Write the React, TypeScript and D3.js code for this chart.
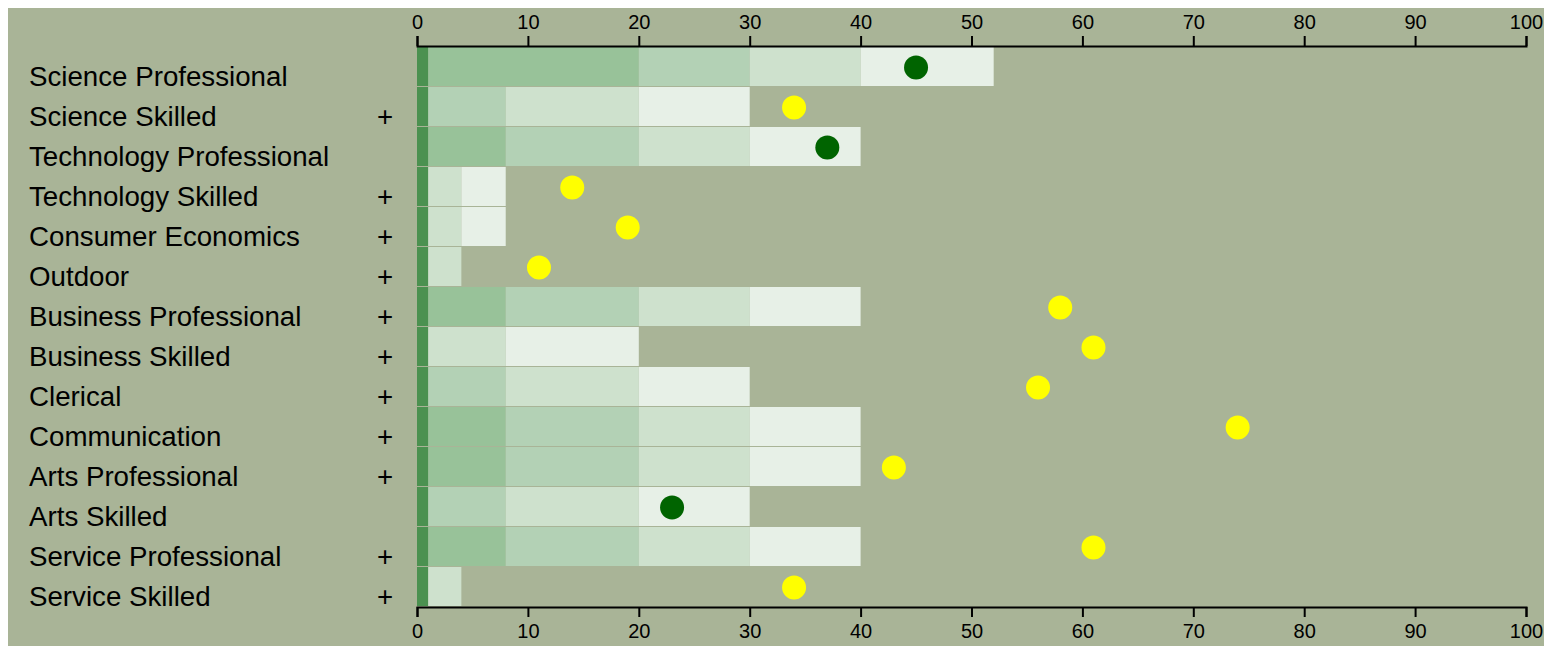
import React, { useEffect, useRef } from "react";
import * as d3 from "d3";

const categories: string[] = [
  "Science Professional",
  "Science Skilled",
  "Technology Professional",
  "Technology Skilled",
  "Consumer Economics",
  "Outdoor",
  "Business Professional",
  "Business Skilled",
  "Clerical",
  "Communication",
  "Arts Professional",
  "Arts Skilled",
  "Service Professional",
  "Service Skilled",
];

// end values of the shaded range segments (the first starts at 1)
const rangeEnds: number[][] = [
  [20, 30, 40, 52],
  [8, 20, 30],
  [8, 20, 30, 40],
  [4, 8],
  [4, 8],
  [4],
  [8, 20, 30, 40],
  [8, 20],
  [8, 20, 30],
  [8, 20, 30, 40],
  [8, 20, 30, 40],
  [8, 20, 30],
  [8, 20, 30, 40],
  [4],
];

// shade level for each segment (0 = darkest, 3 = lightest)
const rangeShades: number[][] = [
  [0, 1, 2, 3],
  [1, 2, 3],
  [0, 1, 2, 3],
  [2, 3],
  [2, 3],
  [2],
  [0, 1, 2, 3],
  [2, 3],
  [1, 2, 3],
  [0, 1, 2, 3],
  [0, 1, 2, 3],
  [1, 2, 3],
  [0, 1, 2, 3],
  [2],
];

const baseValue = 1;
const scores: number[] = [45, 34, 37, 14, 19, 11, 58, 61, 56, 74, 43, 23, 61, 34];
const flagged: boolean[] = [false, true, false, true, true, true, true, true, true, true, true, false, true, true];
const ticks: number[] = [0, 10, 20, 30, 40, 50, 60, 70, 80, 90, 100];

const BG = "#a9b497";
const BASE_COLOR = "#4b9150";
const SHADES = ["#98c299", "#b3d1b5", "#cee1cd", "#e7f0e7"];
const FONT = "Arial, 'Liberation Sans', sans-serif";

export default function App() {
  const topRef = useRef<SVGGElement>(null);
  const botRef = useRef<SVGGElement>(null);

  const x = d3.scaleLinear().domain([0, 100]).range([409, 1518]);
  const y = d3
    .scaleBand<string>()
    .domain(categories)
    .range([39, 39 + categories.length * 40])
    .paddingInner(0.025)
    .paddingOuter(0.0125)
    .align(0);
  const bw = y.bandwidth();

  useEffect(() => {
    const style = (g: d3.Selection<SVGGElement, unknown, null, undefined>) => {
      g.attr("font-family", FONT).attr("font-size", 20);
      g.select(".domain").attr("stroke", "#000").attr("stroke-width", 2);
      g.selectAll(".tick line").attr("stroke", "#000").attr("stroke-width", 2);
      g.selectAll(".tick text").attr("fill", "#000");
    };
    if (topRef.current) {
      const g = d3.select(topRef.current);
      g.call(d3.axisTop(x).tickValues(ticks).tickSize(10).tickPadding(7).tickFormat(d3.format("d")) as any);
      style(g);
    }
    if (botRef.current) {
      const g = d3.select(botRef.current);
      g.call(d3.axisBottom(x).tickValues(ticks).tickSize(10).tickPadding(7).tickFormat(d3.format("d")) as any);
      style(g);
    }
  }, []);

  return (
    <svg
      width={1536}
      height={638}
      style={{
        display: "block",
        maxWidth: "none",
        overflow: "visible",
        position: "fixed",
        left: 8,
        top: 8,
      }}
    >
      <rect x={0} y={0} width={1536} height={638} fill={BG} />
      {categories.map((c, i) => {
        const top = y(c) as number;
        const ends = rangeEnds[i];
        return (
          <g key={c}>
            {ends.map((e, j) => {
              const start = j === 0 ? baseValue : ends[j - 1];
              return (
                <rect
                  key={j}
                  x={x(start)}
                  y={top}
                  width={x(e) - x(start)}
                  height={bw}
                  fill={SHADES[rangeShades[i][j]]}
                />
              );
            })}
            <rect x={x(0)} y={top} width={x(baseValue) - x(0)} height={bw} fill={BASE_COLOR} />
            <circle
              cx={x(scores[i])}
              cy={top + bw / 2 + 1}
              r={12}
              fill={flagged[i] ? "#ffff00" : "#006400"}
            />
            <text x={21} y={top + bw} fontFamily={FONT} fontSize={27.7} fill="#000">
              {c}
            </text>
            {flagged[i] && (
              <text x={377} y={top + bw} fontFamily={FONT} fontSize={27.7} fill="#000" textAnchor="middle">
                +
              </text>
            )}
          </g>
        );
      })}
      <g ref={topRef} transform="translate(0,38)" />
      <g ref={botRef} transform="translate(0,599)" />
    </svg>
  );
}
